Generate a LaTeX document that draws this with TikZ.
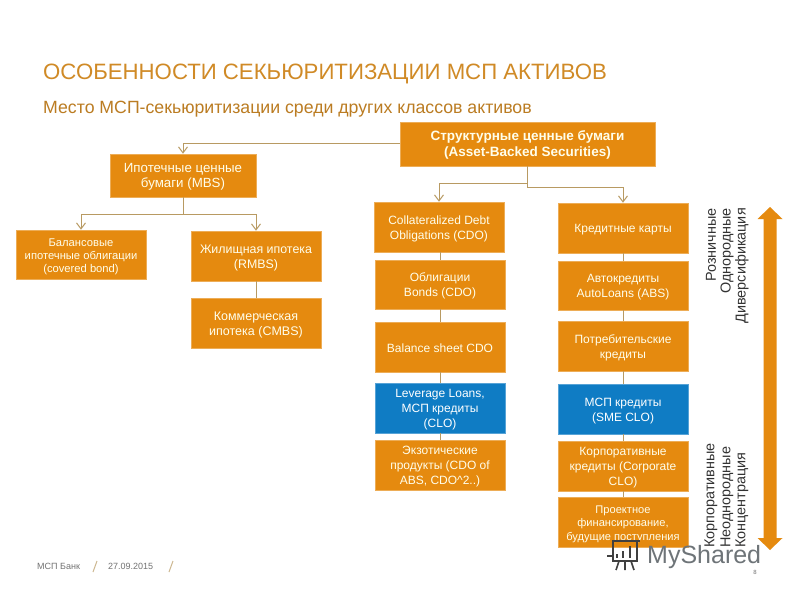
\documentclass[tikz,border=0pt]{standalone}
\usepackage{fontspec}
\setmainfont{Liberation Sans}
\usetikzlibrary{arrows.meta}
\definecolor{orng}{HTML}{E58A0F}
\definecolor{blu}{HTML}{0F7CC4}
\definecolor{conn}{HTML}{B89A62}
\definecolor{ttl}{HTML}{D08A26}
\definecolor{wm}{HTML}{6E7478}
\newcommand{\fs}[2]{\fontsize{#1}{#2}\selectfont}
\tikzset{
  x=1pt,y=-1pt,
  box/.style={fill=orng,draw=orng!70!white,line width=0.6pt,text=white!92!yellow,align=center,inner sep=0pt},
  bluebox/.style={box,fill=blu,draw=blu!70!white,text=white},
  b12/.style={font=\fs{12}{15}},
  link/.style={draw=conn,line width=1pt},
  arr/.style={link,-{Straight Barb[length=6pt,width=9pt]}},
  side/.style={rotate=90,font=\fs{14.4}{15},text=black!80,inner sep=0pt}
}
\newcommand{\bx}[7][box]{% style, name, x0,y0,x1,y1, text
  \node[#1,minimum width=#5pt-#3pt,minimum height=#6pt-#4pt] (#2) at ({(#3+#5)/2},{(#4+#6)/2}) {\rule{0pt}{12pt}#7};}
\begin{document}
\begin{tikzpicture}
\useasboundingbox (0,0) rectangle (800,600);
\fill[white] (0,0) rectangle (800,600);
\node[anchor=base west,inner sep=0pt,text=ttl,font=\fs{22.2}{24}] (title) at (43,79) {ОСОБЕННОСТИ СЕКЬЮРИТИЗАЦИИ МСП АКТИВОВ};
\node[anchor=base west,inner sep=0pt,text=ttl!90!black,font=\fs{17.7}{20}] (sub) at (43,113) {Место МСП-секьюритизации среди других классов активов};

\bx[box,font=\fs{13.5}{16}\bfseries]{root}{400}{122}{655}{166}{Структурные ценные бумаги\\(Asset-Backed Securities)}
\bx[box,font=\fs{13.3}{15.5}]{mbs}{110}{154}{256}{197}{Ипотечные ценные\\бумаги (MBS)}
\bx[box,font=\fs{11.2}{13.2}]{cov}{16}{230}{146}{279}{Балансовые\\ипотечные облигации\\(covered bond)}
\bx[box,font=\fs{12.4}{15}]{rmbs}{191}{231}{321}{281}{Жилищная ипотека\\(RMBS)}
\bx[box,font=\fs{12.5}{15}]{cmbs}{191}{298}{321}{348}{Коммерческая\\ипотека (CMBS)}

\bx[box,b12]{cdo}{374}{202}{504}{252}{Collateralized Debt\\Obligations (CDO)}
\bx[box,b12]{bonds}{375}{260}{505}{309}{Облигации\\Bonds (CDO)}
\bx[box,b12]{bs}{375}{322}{505}{372}{Balance sheet CDO}
\bx[bluebox,b12]{clo}{375}{383}{505}{433}{Leverage Loans,\\МСП кредиты\\(CLO)}
\bx[box,b12]{exo}{375}{440}{505}{490}{Экзотические\\продукты (CDO of\\ABS, CDO\^{}2..)}

\bx[box,b12]{card}{558}{203}{688}{253}{Кредитные карты}
\bx[box,b12]{auto}{558}{261}{688}{310}{Автокредиты\\AutoLoans (ABS)}
\bx[box,b12]{pot}{558}{321}{688}{371}{Потребительские\\кредиты}
\bx[bluebox,b12]{sme}{558}{384}{688}{434}{МСП кредиты\\(SME CLO)}
\bx[box,b12]{corp}{558}{441}{688}{491}{Корпоративные\\кредиты (Corporate\\CLO)}
\bx[box,font=\fs{11.1}{13.5}]{proj}{558}{497}{688}{547}{Проектное\\финансирование,\\будущие поступления}

% connectors
\coordinate (rl) at (183,143);
\coordinate (mj) at (183,214);
\coordinate (rj) at (527,183);
\draw[link] (root.west |- rl) -- (rl);
\draw[arr] (rl) -- (mbs.north);
\draw[link] (mbs.south) -- (mj);
\draw[arr] (mj) -| (cov.north);
\draw[arr] (mj) -| (rmbs.north);
\draw[link] (rmbs) -- (cmbs);
\draw[arr] (root.south) |- (439,183) -- (cdo.north);
\draw[arr] (rj) |- (623,187) -- (card.north);
\draw[link] (cdo.south -| bonds.north) -- (bonds.north);
\draw[link] (bonds) -- (bs);
\draw[link] (bs) -- (clo);
\draw[link] (clo) -- (exo);
\draw[link] (card) -- (auto);
\draw[link] (auto) -- (pot);
\draw[link] (pot) -- (sme);
\draw[link] (sme) -- (corp);
\draw[link] (corp) -- (proj);

% double arrow
\fill[orng] (770,207) -- (782.5,219) -- (776.5,219) -- (776.5,538) -- (782.5,538) -- (770,550) -- (757.5,538) -- (763.5,538) -- (763.5,219) -- (757.5,219) -- cycle;

% side labels
\node[side,anchor=east] (s1) at (711,208) {Розничные};
\node[side,anchor=east] (s2) at (727,208) {Однородные};
\node[side,anchor=east] (s3) at (742,208) {Диверсификация};
\node[side,anchor=west] (s4) at (711,548) {Корпоративные};
\node[side,anchor=west] (s5) at (727,548) {Неоднородные};
\node[side,anchor=west] (s6) at (742,548) {Концентрация};

% footer
\node[anchor=base west,inner sep=0pt,text=black!55,font=\fs{9}{10}] (f1) at (37,569) {МСП Банк};
\node[anchor=base west,inner sep=0pt,text=black!55,font=\fs{9}{10}] (f2) at (108,569) {27.09.2015};
\draw[conn!70!white,line width=1pt] (93,572) -- (97,561);
\draw[conn!70!white,line width=1pt] (169,572) -- (173,561);
\node[anchor=base,inner sep=0pt,text=black!55,font=\fs{6}{7}] (f3) at (755,574) {8};

% watermark
\node[anchor=base west,inner sep=0pt,text=wm,font=\fs{25}{26}] (wm) at (647,563) {MyShared};
\begin{scope}[draw=black!75,line width=1.6pt]
  \draw (612,541) -- (640,541);
  \draw (613,541) -- (613,561) -- (637,561) -- (637,541);
  \draw (607,556) -- (613,556);
  \draw (617,558) -- (617,554) (623,558) -- (623,551) (630,558) -- (630,546);
  \draw (619,561) -- (616,570) (625,561) -- (625,570) (631,561) -- (634,570);
\end{scope}
\end{tikzpicture}
\end{document}
